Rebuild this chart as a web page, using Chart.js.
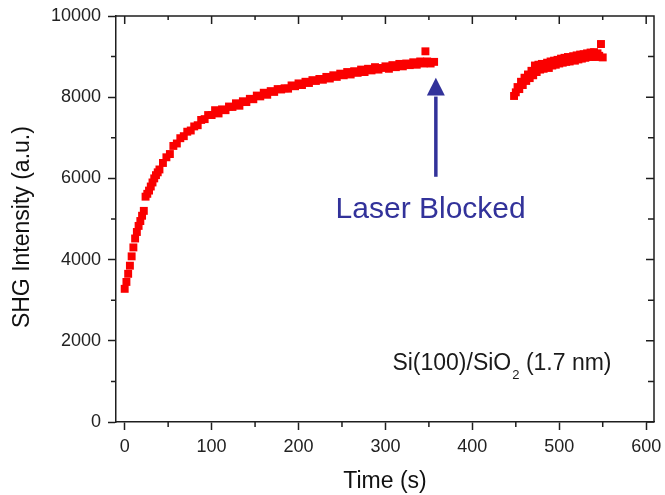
<!DOCTYPE html>
<html><head><meta charset="utf-8">
<script src="https://cdn.jsdelivr.net/npm/chart.js@4.4.1/dist/chart.umd.min.js"></script>
<style>html,body{margin:0;padding:0;background:#fff;} #wrap{width:665px;height:495px;position:relative}</style>
</head><body><div id="wrap"><canvas id="c" width="665" height="495"></canvas></div>
<script>
// ---- data ----
const time1 = [0,2,4,6,8,10,12,14,16,18,20,22,24,26,28,30,32,34,36,38,40,
  44,48,52,56,60,64,68,72,76,80,84,88,92,96,100,104,108,112,116,120,124,128,132,136,140,144,148,152,156,160,
  164,168,172,176,180,184,188,192,196,200,204,208,212,216,220,224,228,232,236,240,244,248,252,256,260,
  264,268,272,276,280,284,288,292,296,300,304,308,312,316,320,324,328,332,336,340,344,346,348,352,356];
const signal1 = [3280,3450,3650,3850,4080,4300,4520,4680,4830,4950,5080,5200,5550,5620,5700,5800,5900,6000,6080,6150,6220,
  6380,6520,6600,6800,6860,6990,7040,7150,7180,7280,7310,7440,7460,7560,7560,7680,7600,7700,7680,7770,7760,7850,7790,7900,7880,7960,7950,8040,8020,8110,
  8060,8150,8130,8200,8190,8220,8210,8290,8270,8340,8300,8380,8350,8420,8400,8450,8430,8500,8460,8540,8500,8580,8540,8620,8560,
  8640,8600,8680,8620,8700,8660,8740,8680,8720,8760,8700,8790,8740,8820,8760,8830,8790,8860,8800,8880,8830,9130,8880,8830,8870];
const time2 = [448,450,452,454,456,458,460,462,464,466,468,470,472,474,476,478,480,482,484,486,488,490,492,494,496,498,
  500,502,504,506,508,510,512,514,516,518,520,522,524,526,528,530,532,534,536,538,540,542,544,546,548,550];
const signal2 = [8030,8120,8250,8200,8380,8300,8480,8400,8560,8470,8650,8540,8780,8620,8800,8680,8820,8700,8760,8850,8720,8880,8780,8900,8800,8920,
  8830,8950,8850,8970,8870,8990,8880,8960,9010,8900,9030,8930,9050,8950,9060,8970,9080,8990,9100,9000,9110,8990,9080,9020,9310,8980];

const xTickValues = [0,100,200,300,400,500,600];
const xMinorValues = [50,150,250,350,450,550];
const yTickValues = [0,2000,4000,6000,8000,10000];
const yMinorValues = [1000,3000,5000,7000,9000];

const xTitle = 'Time (s)';
const yTitle = 'SHG Intensity (a.u.)';
const arrowLabel = 'Laser Blocked';
const sampleMain = 'Si(100)/SiO', sampleSub = '2', sampleTail = ' (1.7 nm)';

// annotation placement in data units
const arrowAt = {t: 358, tip: 8480, headBase: 8040, tail: 6040};
const arrowLabelAt = {t: 352, v: 5030};
const sampleAt = {t: 308, v: 1280};

const axisColor = '#1e1e1e';
const markColor = 'rgb(250,0,0)';
const annColor = '#32329a';
const fontFam = '"Liberation Sans", Arial, Helvetica, sans-serif';

const toXY = (ts, vs) => ts.map((t, i) => ({x: t, y: vs[i]}));

const framePlugin = {
  id: 'frame',
  afterDraw(chart) {
    const {ctx, chartArea: a, scales: {x, y}} = chart;
    ctx.save();
    ctx.strokeStyle = axisColor; ctx.lineWidth = 1.5; ctx.lineCap = 'butt';
    ctx.beginPath();
    ctx.moveTo(a.left, a.top); ctx.lineTo(a.right, a.top); ctx.lineTo(a.right, a.bottom);
    xTickValues.forEach(v => { const p = x.getPixelForValue(v); ctx.moveTo(p, a.top); ctx.lineTo(p, a.top + 8); });
    xMinorValues.forEach(v => { const p = x.getPixelForValue(v);
      ctx.moveTo(p, a.top); ctx.lineTo(p, a.top + 4);
      ctx.moveTo(p, a.bottom); ctx.lineTo(p, a.bottom + 5); });
    yTickValues.forEach(v => { const p = y.getPixelForValue(v); ctx.moveTo(a.right, p); ctx.lineTo(a.right - 8, p); });
    yMinorValues.forEach(v => { const p = y.getPixelForValue(v);
      ctx.moveTo(a.right, p); ctx.lineTo(a.right - 6, p);
      ctx.moveTo(a.left, p); ctx.lineTo(a.left - 5, p); });
    ctx.stroke();

    // y axis title (placed lower than centre, as in the reference)
    ctx.save();
    ctx.translate(23, y.getPixelForValue(4800));
    ctx.rotate(-Math.PI / 2);
    ctx.fillStyle = '#111';
    ctx.font = '23px ' + fontFam;
    ctx.textAlign = 'center'; ctx.textBaseline = 'middle';
    ctx.fillText(yTitle, 0, 0);
    ctx.restore();

    // arrow
    const ax = x.getPixelForValue(arrowAt.t);
    const tipY = y.getPixelForValue(arrowAt.tip);
    const baseY = y.getPixelForValue(arrowAt.headBase);
    const tailY = y.getPixelForValue(arrowAt.tail);
    ctx.strokeStyle = annColor; ctx.fillStyle = annColor; ctx.lineWidth = 3.5;
    ctx.beginPath(); ctx.moveTo(ax, tailY); ctx.lineTo(ax, baseY + 1); ctx.stroke();
    ctx.beginPath(); ctx.moveTo(ax, tipY); ctx.lineTo(ax + 9, baseY); ctx.lineTo(ax - 9, baseY); ctx.closePath(); ctx.fill();

    ctx.font = '30px ' + fontFam;
    ctx.textAlign = 'center'; ctx.textBaseline = 'alphabetic';
    ctx.fillText(arrowLabel, x.getPixelForValue(arrowLabelAt.t), y.getPixelForValue(arrowLabelAt.v));

    // sample label with subscript
    ctx.fillStyle = '#1a1a1a';
    ctx.textAlign = 'left';
    let sx = x.getPixelForValue(sampleAt.t);
    const sy = y.getPixelForValue(sampleAt.v);
    ctx.font = '23px ' + fontFam;
    ctx.fillText(sampleMain, sx, sy); sx += ctx.measureText(sampleMain).width + 1;
    ctx.font = '13px ' + fontFam;
    ctx.fillText(sampleSub, sx, sy + 9); sx += ctx.measureText(sampleSub).width;
    ctx.font = '23px ' + fontFam;
    ctx.fillText(sampleTail, sx, sy);
    ctx.restore();
  }
};

const pointStyle = {
  showLine: false, pointStyle: 'rect', pointRadius: 5.6, pointHoverRadius: 5.6,
  backgroundColor: markColor, borderColor: markColor, borderWidth: 0
};

new Chart(document.getElementById('c'), {
  type: 'scatter',
  data: {
    datasets: [
      Object.assign({label: 'before', data: toXY(time1, signal1)}, pointStyle),
      Object.assign({label: 'after', data: toXY(time2, signal2)}, pointStyle)
    ]
  },
  options: {
    responsive: false, animation: false, devicePixelRatio: 1,
    layout: {padding: {left: 0, right: 11, top: 16, bottom: 0}},
    plugins: {legend: {display: false}, tooltip: {enabled: false}},
    scales: {
      x: {
        type: 'linear', min: -10, max: 609,
        afterBuildTicks: s => { s.ticks = xTickValues.map(v => ({value: v})); },
        afterFit: s => { s.height = 73; s.paddingLeft = 0; s.paddingRight = 0; },
        border: {display: true, color: axisColor, width: 1.5},
        grid: {display: true, drawOnChartArea: false, drawTicks: true, tickLength: 8, tickColor: axisColor, tickWidth: 1.5},
        ticks: {color: '#222', font: {family: fontFam, size: 18}, padding: 6, maxRotation: 0, autoSkip: false,
          callback: v => String(v)},
        title: {display: true, text: xTitle, color: '#111', font: {family: fontFam, size: 23}, padding: 0}
      },
      y: {
        type: 'linear', min: 0, max: 10000,
        afterBuildTicks: s => { s.ticks = yTickValues.map(v => ({value: v})); },
        afterFit: s => { s.width = 116; s.paddingTop = 0; s.paddingBottom = 0; },
        border: {display: true, color: axisColor, width: 1.5},
        grid: {display: true, drawOnChartArea: false, drawTicks: true, tickLength: 8, tickColor: axisColor, tickWidth: 1.5},
        ticks: {color: '#222', font: {family: fontFam, size: 18}, padding: 7, autoSkip: false,
          callback: v => String(v)},
        title: {display: false, text: yTitle}
      }
    }
  },
  plugins: [framePlugin]
});
</script>
</body></html>
